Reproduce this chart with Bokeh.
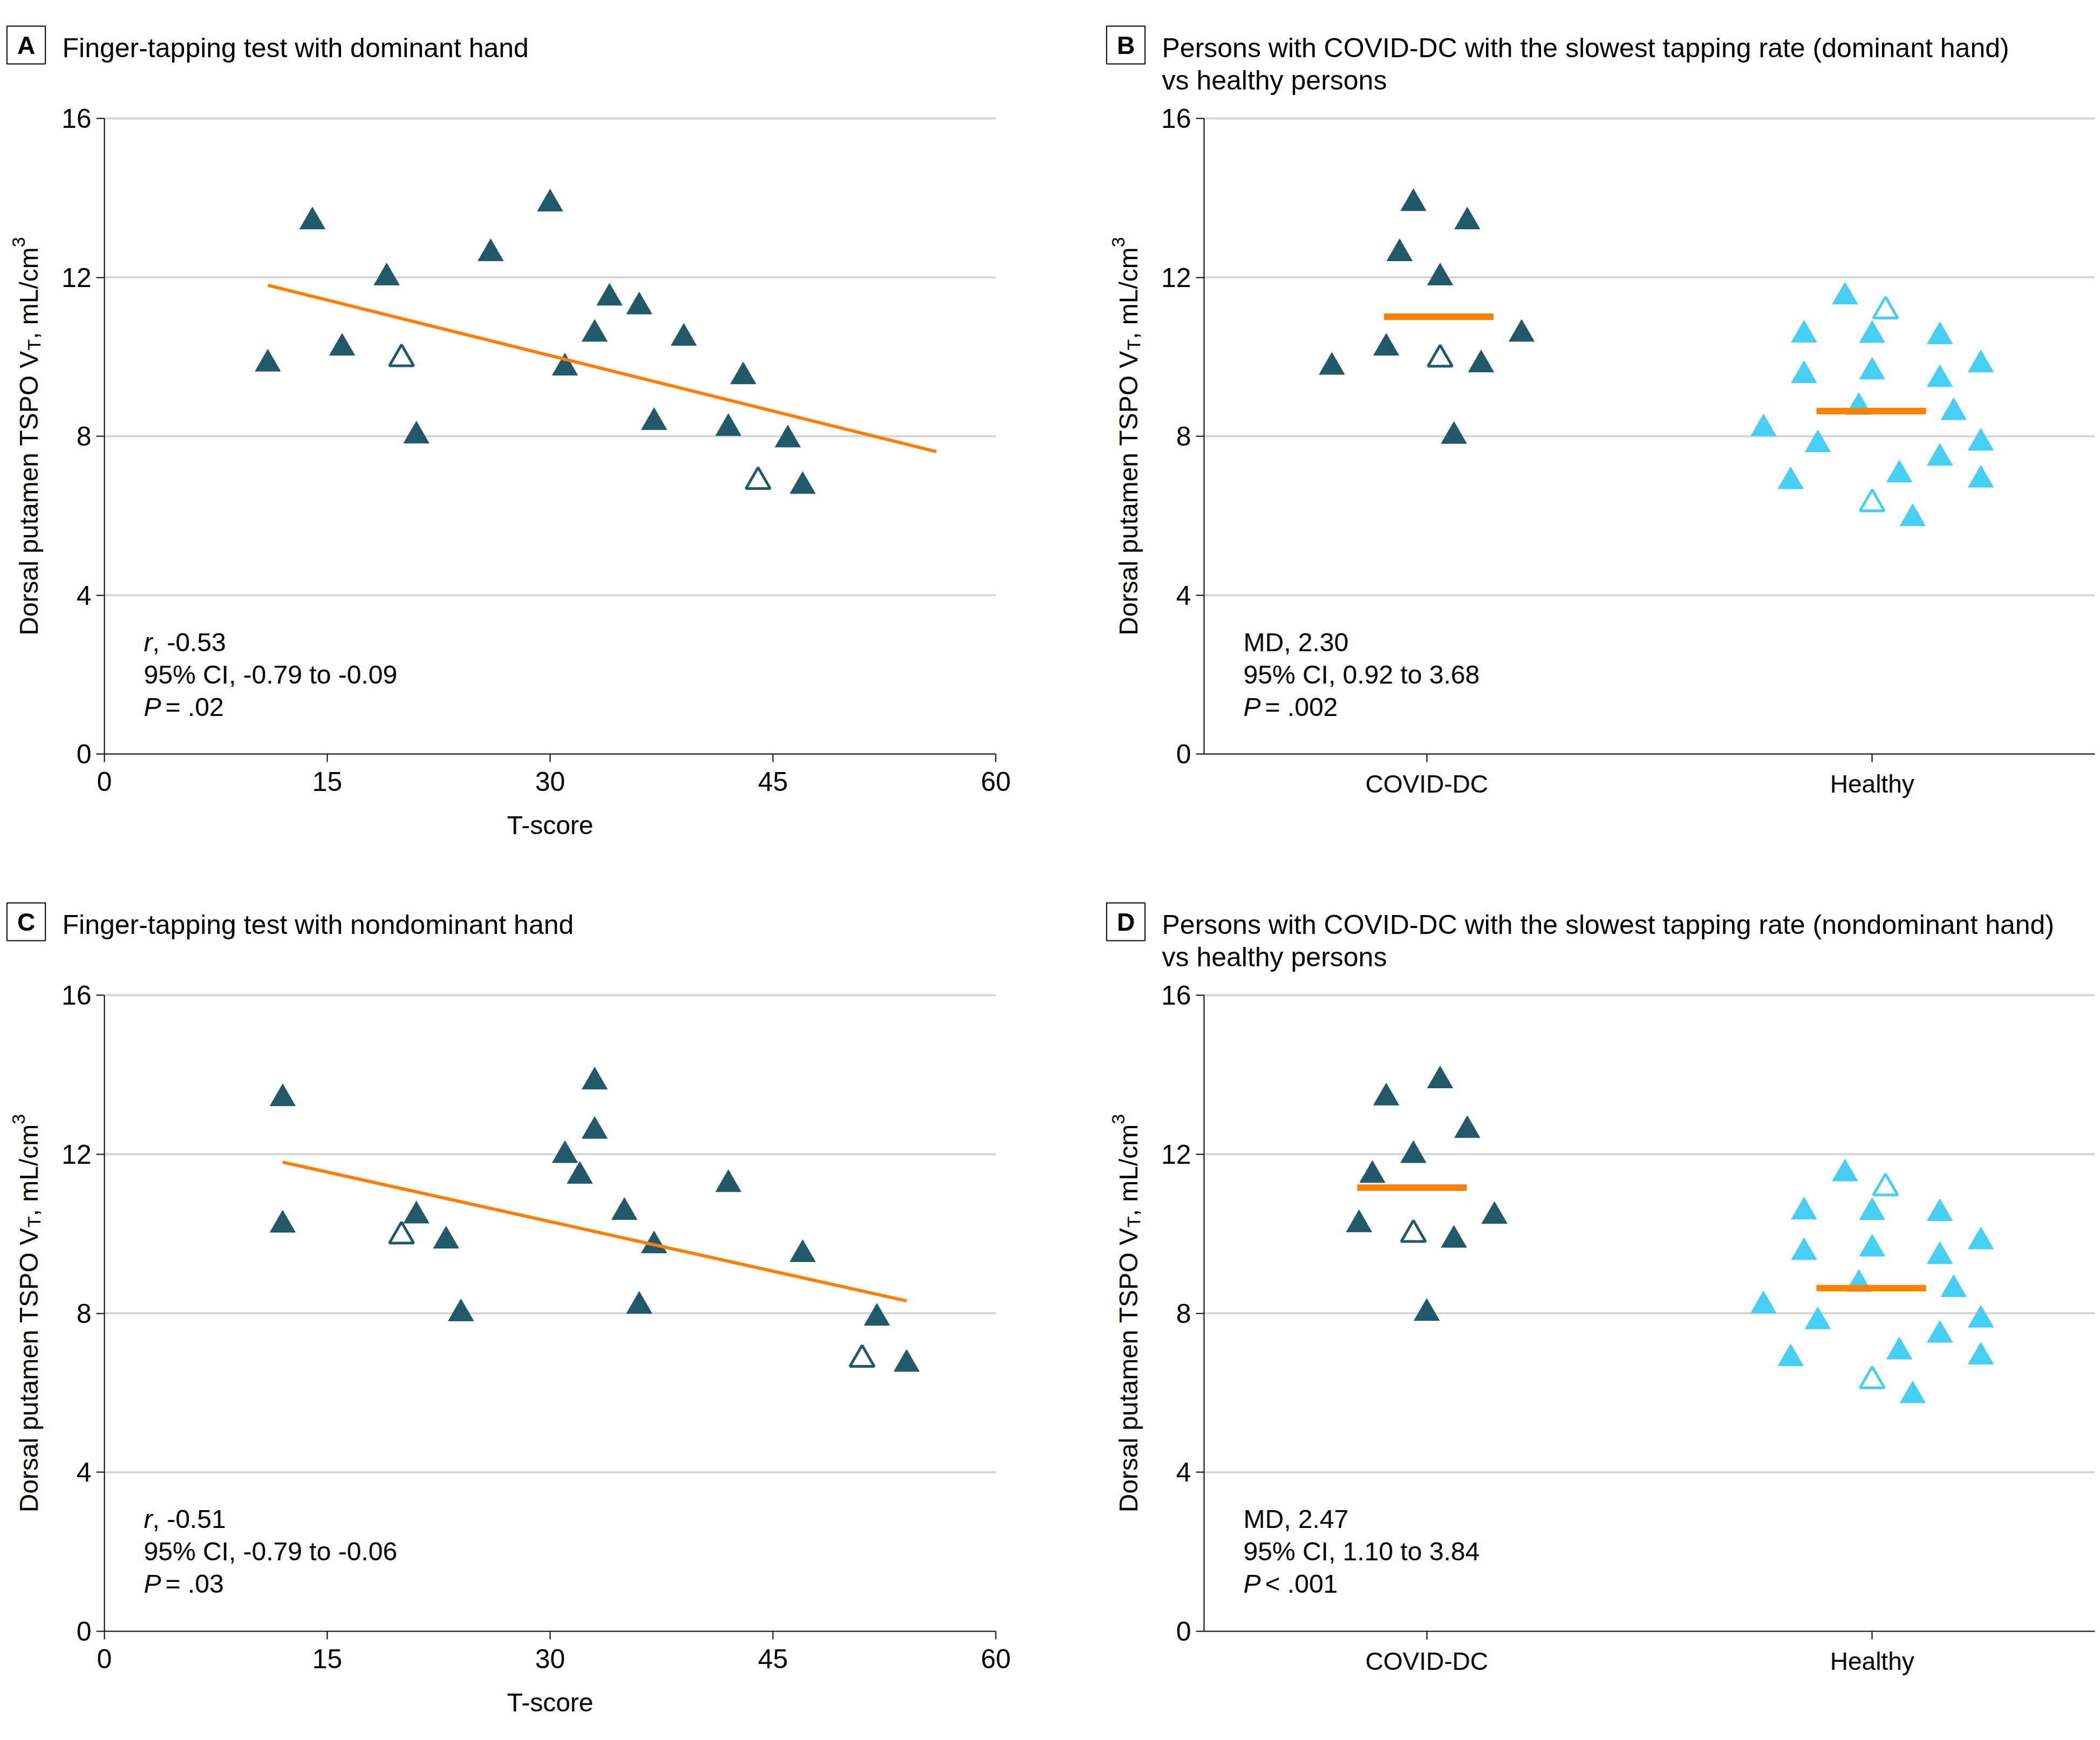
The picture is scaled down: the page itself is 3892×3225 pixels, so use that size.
import math
from bokeh.plotting import figure
from bokeh.layouts import gridplot
from bokeh.models import Label, FixedTicker, Range1d
from bokeh.embed import file_html
from bokeh.resources import INLINE

# ---------------- data ----------------
A_tscore = [11, 14, 16, 19, 20, 21, 26, 30, 31, 33, 34, 36, 37, 39, 42, 43, 44, 46, 47]
A_vt = [9.82, 13.40, 10.22, 11.99, 9.95, 8.01, 12.60, 13.85, 9.72, 10.57, 11.48, 11.26,
        8.35, 10.47, 8.20, 9.50, 6.86, 7.91, 6.74]
A_hollow = [0, 0, 0, 0, 1, 0, 0, 0, 0, 0, 0, 0, 0, 0, 0, 0, 1, 0, 0]
A_fit_x = [11, 56]
A_fit_y = [11.80, 7.61]

C_tscore = [12, 12, 20, 21, 23, 24, 31, 32, 33, 33, 35, 36, 37, 42, 47, 51, 52, 54]
C_vt = [13.40, 10.22, 9.94, 10.45, 9.82, 7.99, 11.97, 11.45, 13.82, 12.58, 10.54, 8.18,
        9.70, 11.24, 9.48, 6.84, 7.88, 6.72]
C_hollow = [0, 0, 1, 0, 0, 0, 0, 0, 0, 0, 0, 0, 0, 0, 0, 1, 0, 0]
C_fit_x = [12, 54]
C_fit_y = [11.80, 8.31]

groups = ["COVID-DC", "Healthy"]

B_covid_jitter = [-0.213, -0.091, -0.061, -0.030, 0.030, 0.030, 0.061, 0.091, 0.122, 0.213]
B_covid_vt = [9.74, 10.22, 12.60, 13.86, 11.99, 9.94, 8.00, 13.40, 9.80, 10.57]
B_covid_hollow = [0, 0, 0, 0, 0, 1, 0, 0, 0, 0]
B_covid_mean = 11.01
B_covid_mean_center = 1.027

D_covid_jitter = [-0.152, -0.122, -0.091, -0.030, -0.030, 0.0, 0.030, 0.061, 0.091, 0.152]
D_covid_vt = [10.23, 11.47, 13.42, 11.97, 9.98, 8.00, 13.85, 9.84, 12.60, 10.44]
D_covid_hollow = [0, 0, 0, 0, 1, 0, 0, 0, 0, 0]
D_covid_mean = 11.16
D_covid_mean_center = 0.967

healthy_jitter = [-0.244, -0.183, -0.153, -0.153, -0.122, -0.061, -0.030, 0.0, 0.0, 0.0,
                  0.030, 0.061, 0.091, 0.152, 0.152, 0.152, 0.183, 0.244, 0.244, 0.244]
healthy_vt = [8.19, 6.86, 10.55, 9.53, 7.79, 11.51, 8.73, 10.54, 9.62, 6.30,
              11.15, 7.03, 5.93, 10.51, 9.43, 7.45, 8.60, 9.80, 7.83, 6.90]
healthy_hollow = [0, 0, 0, 0, 0, 0, 0, 0, 0, 1, 1, 0, 0, 0, 0, 0, 0, 0, 0, 0]
healthy_mean = 8.63
healthy_mean_center = 1.998
mean_halfwidth = 0.123

y_ticks = [0, 4, 8, 12, 16]
x_ticks = [0, 15, 30, 45, 60]

stats_A = ["r", ", -0.53", "95% CI, -0.79 to -0.09", "P", "= .02"]
stats_B = ["", "MD, 2.30", "95% CI, 0.92 to 3.68", "P", "= .002"]
stats_C = ["r", ", -0.51", "95% CI, -0.79 to -0.06", "P", "= .03"]
stats_D = ["", "MD, 2.47", "95% CI, 1.10 to 3.84", "P", "< .001"]

titles = {
    "A": ["Finger-tapping test with dominant hand"],
    "B": ["Persons with COVID-DC with the slowest tapping rate (dominant hand)", "vs healthy persons"],
    "C": ["Finger-tapping test with nondominant hand"],
    "D": ["Persons with COVID-DC with the slowest tapping rate (nondominant hand)", "vs healthy persons"],
}

# ---------------- style / geometry ----------------
TEAL = "#21596A"
CYAN = "#47CEF5"
ORANGE = "#FF8000"
GRID = "#D6D6D6"
FONT = "Liberation Sans"
NUM_FS = 50
TXT_FS = 48
TITLE_FS = 50
CAT_FS = 46
YFS = 48
SUB_FS = 34

FIG_W = 1946
FIG_H = {"top": 1625, "bottom": 1600}
# pixel geometry of the plotting area inside each figure (from the left / from the top)
PLOT_X_PX = {"left": (193, 1845), "right": (285, 1936)}
PLOT_Y_PX = {"top": (219, 1397), "bottom": (219, 1398)}   # (value 16, value 0)


def x_range_for(v0, v1, side):
    p0, p1 = PLOT_X_PX[side]
    k = (p1 - p0) / (v1 - v0)
    return Range1d(v0 - p0 / k, v1 + (FIG_W - p1) / k)


def y_range_for(row):
    ptop, pbot = PLOT_Y_PX[row]
    H = FIG_H[row]
    k = (pbot - ptop) / 16.0
    return Range1d(0 - (H - pbot) / k, 16 + ptop / k)


def lab(p, H, x, y_from_top, text, **kw):
    opts = dict(text_font=FONT, text_font_size=f"{TXT_FS}px", text_color="black",
                text_baseline="alphabetic", text_align="left")
    opts.update(kw)
    p.add_layout(Label(x=x, y=H - y_from_top, x_units="screen", y_units="screen",
                       text=text, **opts))


def base_figure(xr, row, x0, x1, xticks):
    H = FIG_H[row]
    p = figure(width=FIG_W, height=H, output_backend="svg", toolbar_location=None,
               x_range=xr, y_range=y_range_for(row), min_border=0,
               min_border_left=0, min_border_right=0, min_border_top=0, min_border_bottom=0)
    p.outline_line_color = None
    p.background_fill_color = "white"
    p.border_fill_color = "white"
    p.xgrid.visible = False
    p.ygrid.visible = False
    # horizontal reference lines at the y ticks, spanning the axis extent
    gy = [t for t in y_ticks if t > 0]
    p.segment(x0=[x0] * len(gy), x1=[x1] * len(gy), y0=gy, y1=gy,
              line_color=GRID, line_width=4)
    xa, ya = p.xaxis[0], p.yaxis[0]
    xa.fixed_location = 0
    xa.bounds = (x0, x1)
    ya.fixed_location = x0
    ya.bounds = (0, 16)
    for ax in (xa, ya):
        ax.axis_line_width = 2
        ax.axis_line_color = "black"
        ax.major_tick_line_width = 2
        ax.major_tick_line_color = "black"
        ax.major_tick_out = 15
        ax.major_tick_in = 0
        ax.minor_tick_out = 0
        ax.minor_tick_in = 0
        ax.major_label_text_font = FONT
        ax.major_label_text_font_size = f"{NUM_FS}px"
        ax.major_label_text_color = "black"
    ya.ticker = FixedTicker(ticks=y_ticks)
    ya.major_label_standoff = 9
    xa.ticker = FixedTicker(ticks=xticks)
    xa.major_label_standoff = 18
    return p


def decorate(p, row, side, letter, stats):
    H = FIG_H[row]
    px0 = PLOT_X_PX[side][0]
    ptop, pbot = PLOT_Y_PX[row]
    # boxed panel letter
    lab(p, H, px0 - 145, 83, letter, text_font_style="bold", text_align="center",
        text_baseline="middle", text_font_size="46px", border_line_color="black",
        border_line_width=2, padding=dict(left=19, right=19, top=9, bottom=9))
    for i, t in enumerate(titles[letter]):
        lab(p, H, px0 - 78, 88 + 60 * i, t, text_font_size=f"{TITLE_FS}px")
    # y-axis title built from pieces (subscript T, superscript 3)
    w1 = 11.004 * YFS
    wT = 0.611 * SUB_FS
    w3 = 3.556 * YFS
    w4 = 0.556 * SUB_FS
    L = w1 + wT + w3 + w4
    y0 = H - (ptop + pbot) / 2 - L / 2
    xb = px0 - 140
    common = dict(x_units="screen", y_units="screen", angle=math.pi / 2,
                  text_font=FONT, text_color="black", text_baseline="alphabetic",
                  text_align="left")
    p.add_layout(Label(x=xb, y=y0, text="Dorsal putamen TSPO V",
                       text_font_size=f"{YFS}px", **common))
    p.add_layout(Label(x=xb + 9, y=y0 + w1, text="T",
                       text_font_size=f"{SUB_FS}px", **common))
    p.add_layout(Label(x=xb, y=y0 + w1 + wT, text=", mL/cm",
                       text_font_size=f"{YFS}px", **common))
    p.add_layout(Label(x=xb - 19, y=y0 + w1 + wT + w3, text="3",
                       text_font_size=f"{SUB_FS}px", **common))
    # statistics
    sx = px0 + 73
    if stats[0]:
        lab(p, H, sx, 1190, stats[0], text_font_style="italic")
        lab(p, H, sx + 16, 1190, stats[1])
    else:
        lab(p, H, sx, 1190, stats[1])
    lab(p, H, sx, 1250, stats[2])
    lab(p, H, sx, 1310, stats[3], text_font_style="italic")
    lab(p, H, sx + 40, 1310, stats[4])


def scatter_panel(letter, row, xs, ys, hollow, fit_x, fit_y, stats):
    p = base_figure(x_range_for(0, 60, "left"), row, 0, 60, x_ticks)
    xa = p.xaxis[0]
    xa.axis_label = "T-score"
    xa.axis_label_text_font = FONT
    xa.axis_label_text_font_size = f"{TXT_FS}px"
    xa.axis_label_text_font_style = "normal"
    xa.axis_label_text_color = "black"
    xa.axis_label_standoff = 34
    fx = [x for x, h in zip(xs, hollow) if not h]
    fy = [y for y, h in zip(ys, hollow) if not h]
    hx = [x for x, h in zip(xs, hollow) if h]
    hy = [y for y, h in zip(ys, hollow) if h]
    p.scatter(fx, fy, marker="triangle", size=47, fill_color=TEAL, line_color=TEAL, line_width=1)
    p.scatter(hx, hy, marker="triangle", size=45, fill_color="white", line_color=TEAL, line_width=5)
    p.line(fit_x, fit_y, line_color=ORANGE, line_width=6)
    decorate(p, row, "left", letter, stats)
    return p


def group_panel(letter, row, c_jit, c_vt, c_hol, c_mean, c_center, stats):
    p = base_figure(x_range_for(0.5, 2.5, "right"), row, 0.5, 2.5, [1, 2])
    p.xaxis[0].major_label_overrides = {1: groups[0], 2: groups[1]}
    p.xaxis[0].major_label_text_font_size = f"{CAT_FS}px"
    p.xaxis[0].major_label_standoff = 14
    for gi, (jit, vals, hol, col) in enumerate([(c_jit, c_vt, c_hol, TEAL),
                                                 (healthy_jitter, healthy_vt, healthy_hollow, CYAN)]):
        base = gi + 1
        fx = [base + j for j, h in zip(jit, hol) if not h]
        fy = [v for v, h in zip(vals, hol) if not h]
        hx = [base + j for j, h in zip(jit, hol) if h]
        hy = [v for v, h in zip(vals, hol) if h]
        p.scatter(fx, fy, marker="triangle", size=47, fill_color=col, line_color=col, line_width=1)
        p.scatter(hx, hy, marker="triangle", size=45, fill_color="white", line_color=col, line_width=5)
    p.segment(x0=[c_center - mean_halfwidth, healthy_mean_center - mean_halfwidth],
              x1=[c_center + mean_halfwidth, healthy_mean_center + mean_halfwidth],
              y0=[c_mean, healthy_mean], y1=[c_mean, healthy_mean],
              line_color=ORANGE, line_width=12, line_cap="butt")
    decorate(p, row, "right", letter, stats)
    return p


pA = scatter_panel("A", "top", A_tscore, A_vt, A_hollow, A_fit_x, A_fit_y, stats_A)
pB = group_panel("B", "top", B_covid_jitter, B_covid_vt, B_covid_hollow, B_covid_mean,
                 B_covid_mean_center, stats_B)
pC = scatter_panel("C", "bottom", C_tscore, C_vt, C_hollow, C_fit_x, C_fit_y, stats_C)
pD = group_panel("D", "bottom", D_covid_jitter, D_covid_vt, D_covid_hollow, D_covid_mean,
                 D_covid_mean_center, stats_D)

grid = gridplot([[pA, pB], [pC, pD]], toolbar_location=None)
open("out.html", "w").write(file_html(grid, INLINE))
